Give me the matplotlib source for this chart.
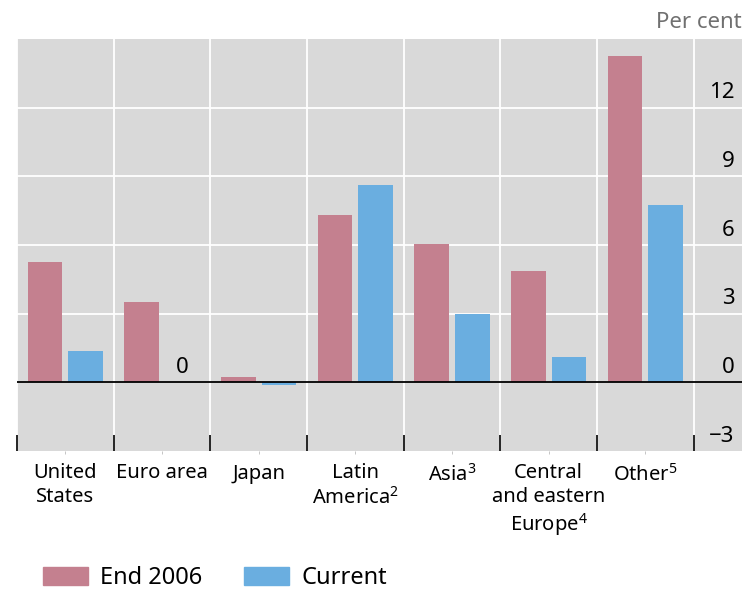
import matplotlib
matplotlib.use("Agg")
import matplotlib.pyplot as plt
import numpy as np
from matplotlib.patches import Patch

plt.rcParams["font.family"] = ["Noto Sans", "DejaVu Sans"]
plt.rcParams["mathtext.fontset"] = "custom"
plt.rcParams["mathtext.rm"] = "Noto Sans"
plt.rcParams["mathtext.it"] = "Noto Sans"

categories = ["United\nStates", "Euro area", "Japan", "Latin\nAmerica$^2$",
              "Asia$^3$", "Central\nand eastern\nEurope$^4$", "Other$^5$"]
end_2006 = [5.25, 3.5, 0.25, 7.3, 6.05, 4.85, 14.25]
current = [1.35, 0.0, -0.1, 8.6, 3.0, 1.1, 7.75]
y_ticks = [-3, 0, 3, 6, 9, 12]

pink = "#c4808f"
blue = "#6aaee0"

fig = plt.figure(figsize=(7.42, 5.92), dpi=100)
ax = fig.add_axes([17 / 742, 141 / 592, 725 / 742, 412 / 592])
ax.set_facecolor("#d9d9d9")

x = np.arange(len(categories))
w = 0.36
ax.bar(x - 0.21, end_2006, w, color=pink, zorder=3)
ax.bar(x + 0.21, current, w, color=blue, zorder=3)

ax.set_xlim(-0.5, 7.0)
ax.set_ylim(-3, 15)

# grid
for b in np.arange(-0.5, 7.0, 1.0):
    ax.axvline(b, color="white", lw=1.3, zorder=1)
for v in [3, 6, 9, 12]:
    ax.axhline(v, color="white", lw=1.3, zorder=1)
ax.axhline(0, color="black", lw=1.3, zorder=4)

for s in ax.spines.values():
    s.set_visible(False)

# x ticks at boundaries, labels at centers
ax.set_xticks(np.arange(-0.5, 7.0, 1.0))
ax.set_xticklabels([])
ax.tick_params(axis="x", which="major", direction="in", length=11.5,
               width=1.2, color="black")
ax.set_xticks(x, minor=True)
ax.set_xticklabels(categories, minor=True, fontsize=14.5, linespacing=1.22, va="top")
ax.tick_params(axis="x", which="minor", length=2, color="#bbbbbb", pad=7)
ax.set_yticks([])

for v in y_ticks:
    ax.annotate(str(v).replace("-", "\u2212"), (0.99, v), xycoords=("axes fraction", "data"),
                xytext=(0, 3), textcoords="offset points", ha="right", va="bottom",
                fontsize=16)

ax.text(1.0, 1.015, "Per cent", transform=ax.transAxes, ha="right", va="bottom",
        fontsize=16, color="#707070")

ax.annotate("0", (1.21, 0), xytext=(0, 3), textcoords="offset points",
            ha="center", va="bottom", fontsize=16)

handles = [Patch(color=pink, label="End 2006"), Patch(color=blue, label="Current")]
fig.legend(handles=handles, loc="center left", bbox_to_anchor=(43 / 742, 14 / 592), ncol=2,
           frameon=False, fontsize=17, handlelength=1.9, handleheight=0.8,
           handletextpad=0.5, columnspacing=1.8, borderpad=0, borderaxespad=0)

fig.savefig("out.png", dpi=100)
